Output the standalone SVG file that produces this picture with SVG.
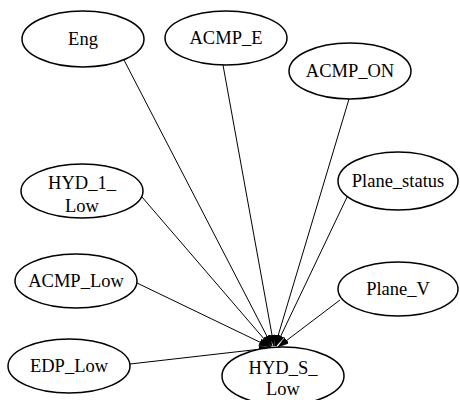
<svg xmlns="http://www.w3.org/2000/svg" width="460" height="400" viewBox="0 0 460 400">
<style>
.node ellipse{fill:#ffffff;stroke:#000000;stroke-width:1.5}
.node text{font-family:"Liberation Serif","Times New Roman",serif;font-size:18.5px;text-anchor:middle;fill:#000000}
.edges line{stroke:#000000;stroke-width:1;marker-end:url(#arrow)}
</style>
<defs>
<marker id="arrow" markerUnits="userSpaceOnUse" markerWidth="12" markerHeight="8" refX="11" refY="3.5" orient="auto">
<path d="M0,0 L11,3.5 L0,7 Z" fill="#000000" stroke="#000000" stroke-width="0.5"/>
</marker>
</defs>
<rect width="460" height="400" fill="#ffffff"/>
<g id="edges" class="edges">
<line x1="124" y1="60" x2="272" y2="346"/>
<line x1="223" y1="65" x2="274" y2="346"/>
<line x1="349" y1="99" x2="275" y2="346"/>
<line x1="348" y1="195" x2="276" y2="346"/>
<line x1="142" y1="197" x2="271" y2="347"/>
<line x1="137" y1="283" x2="270" y2="347"/>
<line x1="340" y1="300" x2="278" y2="347"/>
<line x1="130" y1="364" x2="270" y2="348"/>
</g>
<g id="Eng" class="node"><ellipse cx="83" cy="39" rx="61" ry="28"/><text x="83" y="45">Eng</text></g>
<g id="ACMP_E" class="node"><ellipse cx="226" cy="38" rx="61" ry="27"/><text x="226" y="44">ACMP_E</text></g>
<g id="ACMP_ON" class="node"><ellipse cx="350" cy="71" rx="61" ry="28"/><text x="350" y="77">ACMP_ON</text></g>
<g id="Plane_status" class="node"><ellipse cx="398" cy="181" rx="60" ry="29"/><text x="398" y="187">Plane_status</text></g>
<g id="HYD_1_Low" class="node"><ellipse cx="82" cy="191" rx="61" ry="27"/><text x="82" y="189">HYD_1_</text><text x="82" y="212">Low</text></g>
<g id="ACMP_Low" class="node"><ellipse cx="76" cy="281" rx="61" ry="27"/><text x="76" y="287">ACMP_Low</text></g>
<g id="Plane_V" class="node"><ellipse cx="398" cy="289" rx="60" ry="27"/><text x="398" y="295">Plane_V</text></g>
<g id="EDP_Low" class="node"><ellipse cx="69" cy="366" rx="61" ry="27"/><text x="69" y="372">EDP_Low</text></g>
<g id="HYD_S_Low" class="node"><ellipse cx="283" cy="376" rx="61" ry="29"/><text x="283" y="374">HYD_S_</text><text x="283" y="395">Low</text></g>
</svg>
